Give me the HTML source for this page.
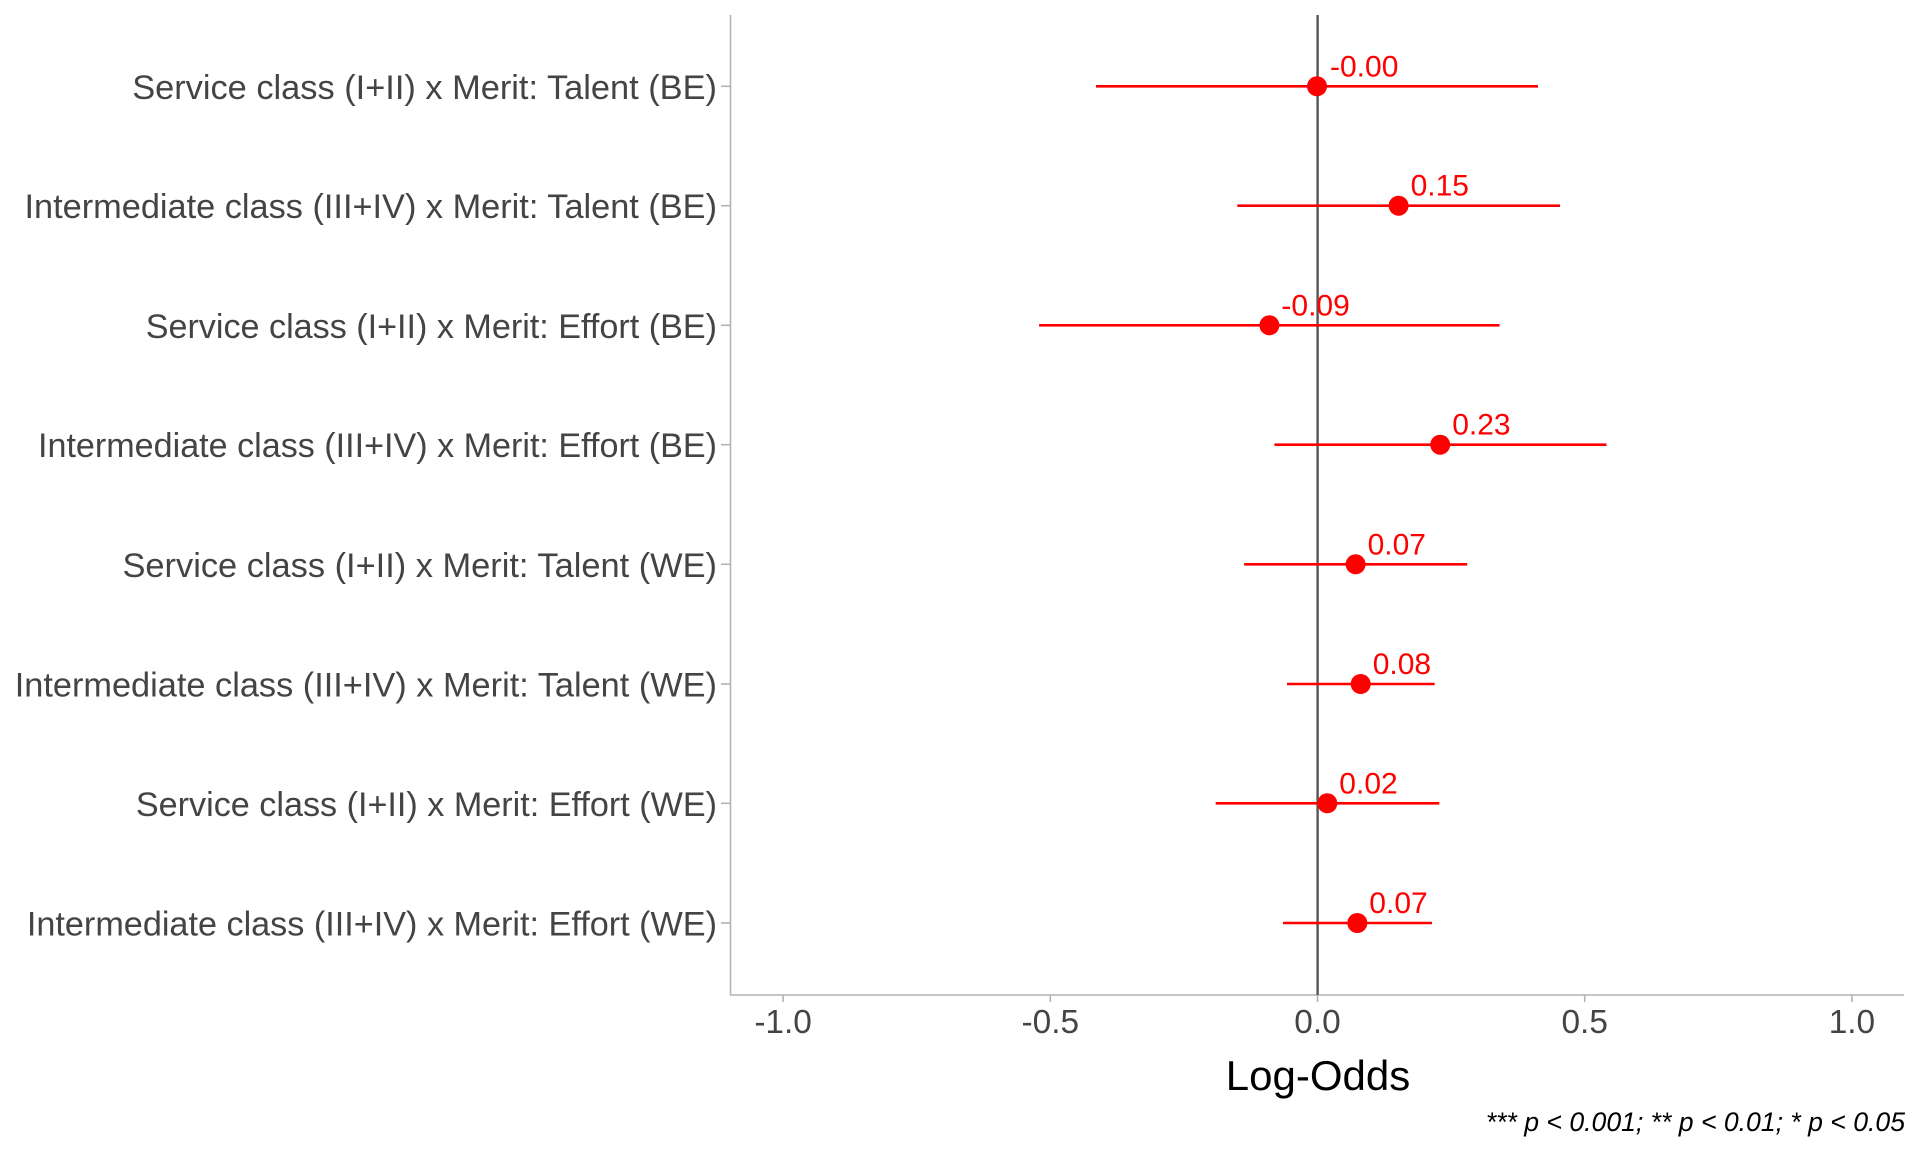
<!DOCTYPE html>
<html>
<head>
<meta charset="utf-8">
<style>
  html, body { margin: 0; padding: 0; background: #ffffff; }
  svg { display: block; }
</style>
</head>
<body>
<svg width="1920" height="1152" viewBox="0 0 1920 1152" xmlns="http://www.w3.org/2000/svg">
  <rect x="0" y="0" width="1920" height="1152" fill="#ffffff"/>

  <!-- axes -->
  <line x1="730.5" y1="15" x2="730.5" y2="995" stroke="#b3b3b3" stroke-width="1.6"/>
  <line x1="730" y1="995" x2="1904" y2="995" stroke="#b3b3b3" stroke-width="1.6"/>

  <!-- x ticks -->
  <g stroke="#b3b3b3" stroke-width="1.6">
    <line x1="783.1" y1="995" x2="783.1" y2="1002"/>
    <line x1="1050.3" y1="995" x2="1050.3" y2="1002"/>
    <line x1="1317.5" y1="995" x2="1317.5" y2="1002"/>
    <line x1="1584.7" y1="995" x2="1584.7" y2="1002"/>
    <line x1="1851.9" y1="995" x2="1851.9" y2="1002"/>
  </g>
  <g font-family="'Liberation Sans', Arial, sans-serif" font-size="33.4" fill="#444444" text-anchor="middle">
    <text x="783.1" y="1033">-1.0</text>
    <text x="1050.3" y="1033">-0.5</text>
    <text x="1317.5" y="1033">0.0</text>
    <text x="1584.7" y="1033">0.5</text>
    <text x="1851.9" y="1033">1.0</text>
  </g>

  <!-- y ticks -->
  <g stroke="#b3b3b3" stroke-width="1.6">
    <line x1="721" y1="86.3" x2="730" y2="86.3"/>
    <line x1="721" y1="205.7" x2="730" y2="205.7"/>
    <line x1="721" y1="325.3" x2="730" y2="325.3"/>
    <line x1="721" y1="444.7" x2="730" y2="444.7"/>
    <line x1="721" y1="564.3" x2="730" y2="564.3"/>
    <line x1="721" y1="684" x2="730" y2="684"/>
    <line x1="721" y1="803.3" x2="730" y2="803.3"/>
    <line x1="721" y1="923" x2="730" y2="923"/>
  </g>
  <g font-family="'Liberation Sans', Arial, sans-serif" font-size="34.4" fill="#444444" text-anchor="end">
    <text x="717" y="98.8" textLength="584.8" lengthAdjust="spacingAndGlyphs">Service class (I+II) x Merit: Talent (BE)</text>
    <text x="717" y="218.2" textLength="692.5" lengthAdjust="spacingAndGlyphs">Intermediate class (III+IV) x Merit: Talent (BE)</text>
    <text x="717" y="337.8" textLength="571.3" lengthAdjust="spacingAndGlyphs">Service class (I+II) x Merit: Effort (BE)</text>
    <text x="717" y="457.2" textLength="679" lengthAdjust="spacingAndGlyphs">Intermediate class (III+IV) x Merit: Effort (BE)</text>
    <text x="717" y="576.8" textLength="594.5" lengthAdjust="spacingAndGlyphs">Service class (I+II) x Merit: Talent (WE)</text>
    <text x="717" y="696.5" textLength="702.3" lengthAdjust="spacingAndGlyphs">Intermediate class (III+IV) x Merit: Talent (WE)</text>
    <text x="717" y="815.8" textLength="581.1" lengthAdjust="spacingAndGlyphs">Service class (I+II) x Merit: Effort (WE)</text>
    <text x="717" y="935.5" textLength="690.1" lengthAdjust="spacingAndGlyphs">Intermediate class (III+IV) x Merit: Effort (WE)</text>
  </g>

  <!-- zero reference line -->
  <line x1="1317.6" y1="15" x2="1317.6" y2="995" stroke="#555555" stroke-width="2.4"/>

  <!-- error bars -->
  <g stroke="#ff0000" stroke-width="2.6">
    <line x1="1096" y1="86.3" x2="1538" y2="86.3"/>
    <line x1="1237.3" y1="205.7" x2="1560" y2="205.7"/>
    <line x1="1039.1" y1="325.3" x2="1499.6" y2="325.3"/>
    <line x1="1274.4" y1="444.7" x2="1606.5" y2="444.7"/>
    <line x1="1244.1" y1="564.3" x2="1467.2" y2="564.3"/>
    <line x1="1287" y1="684" x2="1434.7" y2="684"/>
    <line x1="1215.7" y1="803.3" x2="1439.3" y2="803.3"/>
    <line x1="1283" y1="923" x2="1432" y2="923"/>
  </g>

  <!-- points -->
  <g fill="#ff0000">
    <circle cx="1317" cy="86.3" r="10"/>
    <circle cx="1398.6" cy="205.7" r="10"/>
    <circle cx="1269.4" cy="325.3" r="10"/>
    <circle cx="1440.2" cy="444.7" r="10"/>
    <circle cx="1355.6" cy="564.3" r="10"/>
    <circle cx="1360.7" cy="684" r="10"/>
    <circle cx="1327.3" cy="803.3" r="10"/>
    <circle cx="1357.3" cy="923" r="10"/>
  </g>

  <!-- value labels -->
  <g font-family="'Liberation Sans', Arial, sans-serif" font-size="30" fill="#ff0000">
    <text x="1330" y="76.5">-0.00</text>
    <text x="1410.6" y="195.7">0.15</text>
    <text x="1281.4" y="315.3">-0.09</text>
    <text x="1452.2" y="434.7">0.23</text>
    <text x="1367.6" y="554.3">0.07</text>
    <text x="1372.7" y="674">0.08</text>
    <text x="1339.3" y="793.3">0.02</text>
    <text x="1369.3" y="913">0.07</text>
  </g>

  <!-- axis title -->
  <text x="1318" y="1090" font-family="'Liberation Sans', Arial, sans-serif" font-size="42" fill="#000000" text-anchor="middle">Log-Odds</text>

  <!-- footnote -->
  <text x="1905" y="1131" font-family="'Liberation Sans', Arial, sans-serif" font-size="26.6" font-style="italic" fill="#000000" text-anchor="end">*** p &lt; 0.001; ** p &lt; 0.01; * p &lt; 0.05</text>
</svg>
</body>
</html>
